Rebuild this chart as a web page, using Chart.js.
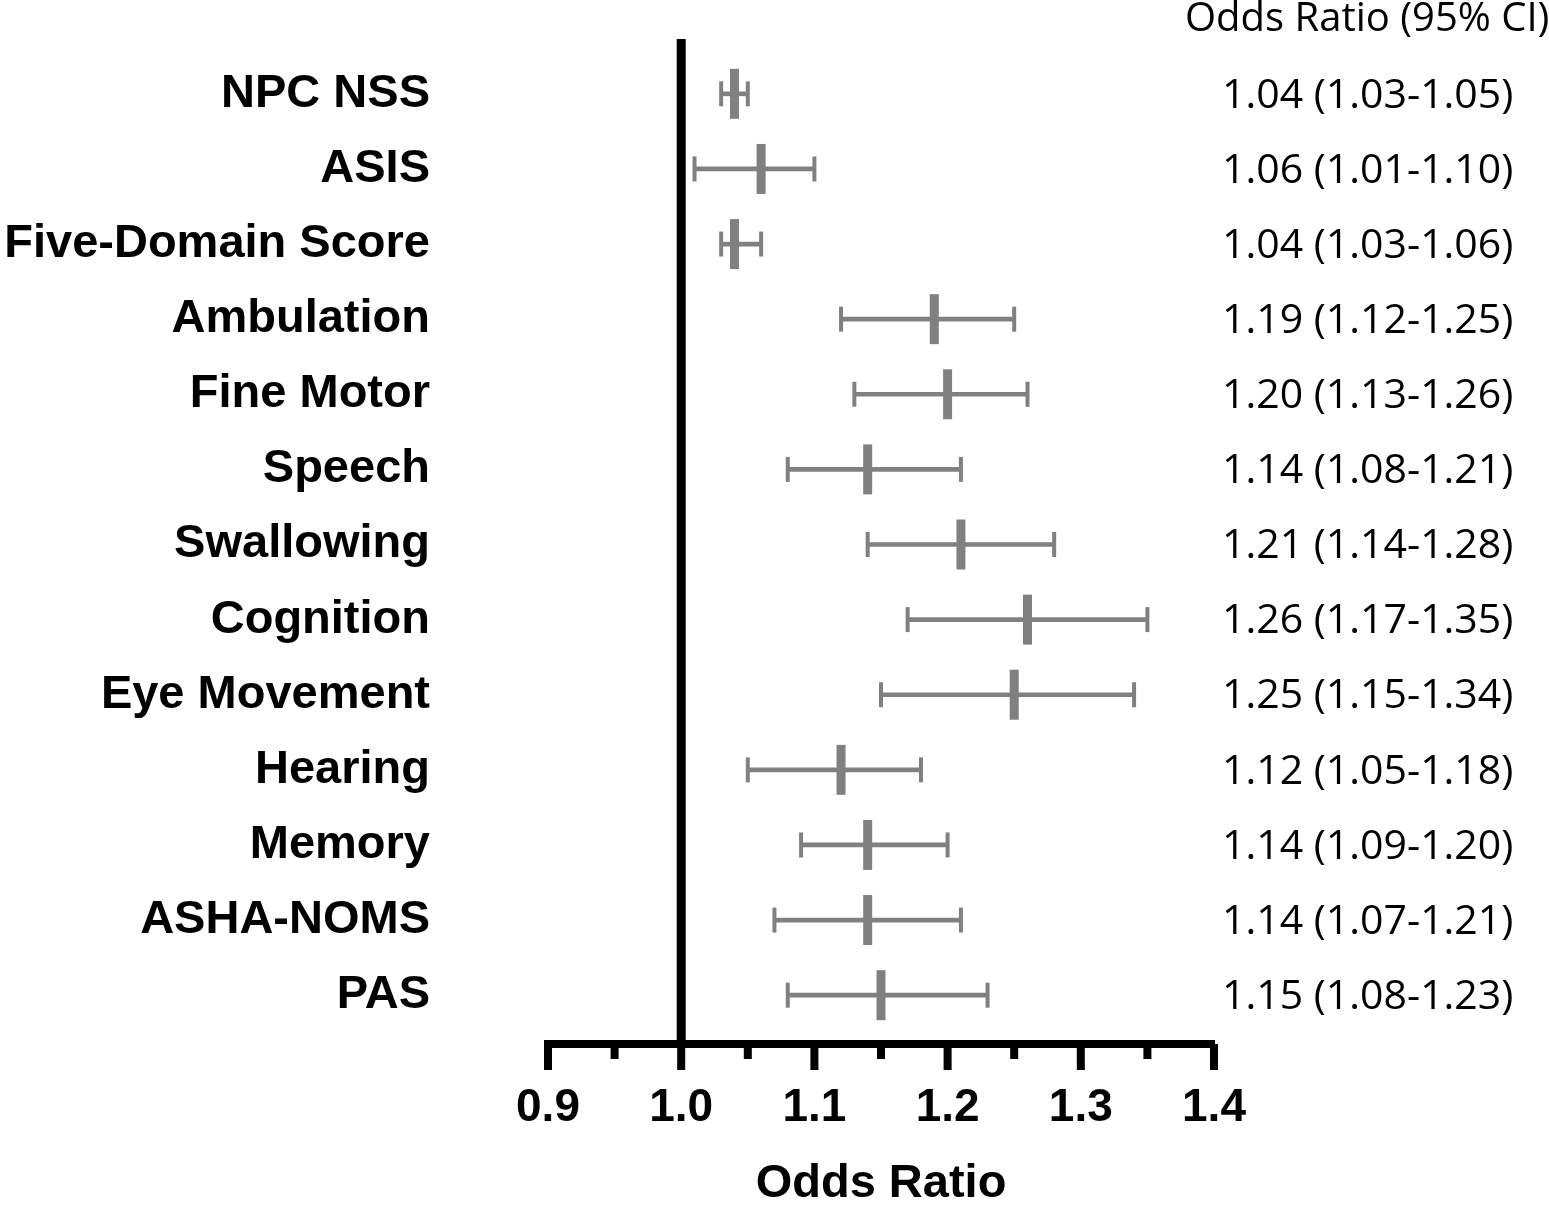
<!DOCTYPE html>
<html>
<head>
<meta charset="utf-8">
<script src="https://cdn.jsdelivr.net/npm/chart.js@4.4.0/dist/chart.umd.min.js"></script>
<style>
  html, body { margin: 0; padding: 0; background: #fff; }
  #wrap { width: 1549px; height: 1208px; }
</style>
</head>
<body>
<div id="wrap"><canvas id="forestCanvas"></canvas></div>
<script>
// datos del forest plot
const categorias = ['NPC NSS', 'ASIS', 'Five-Domain Score', 'Ambulation', 'Fine Motor', 'Speech',
  'Swallowing', 'Cognition', 'Eye Movement', 'Hearing', 'Memory', 'ASHA-NOMS', 'PAS'];
const oddsRatio = [1.04, 1.06, 1.04, 1.19, 1.20, 1.14, 1.21, 1.26, 1.25, 1.12, 1.14, 1.14, 1.15];
const ciLow = [1.03, 1.01, 1.03, 1.12, 1.13, 1.08, 1.14, 1.17, 1.15, 1.05, 1.09, 1.07, 1.08];
const ciHigh = [1.05, 1.10, 1.06, 1.25, 1.26, 1.21, 1.28, 1.35, 1.34, 1.18, 1.20, 1.21, 1.23];
const xTicks = [0.9, 1.0, 1.1, 1.2, 1.3, 1.4];
const xMinorTicks = [0.95, 1.05, 1.15, 1.25, 1.35];
const refValue = 1.0;
const columnHeader = 'Odds Ratio (95% CI)';
const axisTitle = 'Odds Ratio';

const gris = '#808080';
Chart.defaults.font.family = "'Liberation Sans', Arial, sans-serif";
Chart.defaults.color = '#000';

// linea de referencia, ticks del eje y columna de texto
const forestExtras = {
  id: 'forestExtras',
  afterDraw(chart) {
    const ctx = chart.ctx;
    const xs = chart.scales.x, ys = chart.scales.y;
    const area = chart.chartArea;
    ctx.save();
    ctx.fillStyle = '#000';
    // linea vertical en OR = 1
    let xr = xs.getPixelForValue(refValue);
    ctx.fillRect(xr - 4.5, area.top, 9, area.bottom - area.top);
    // ticks mayores y menores
    xTicks.forEach(v => {
      let x = xs.getPixelForValue(v);
      ctx.fillRect(x - 4, area.bottom, 8, 26);
    });
    xMinorTicks.forEach(v => {
      let x = xs.getPixelForValue(v);
      ctx.fillRect(x - 4, area.bottom, 8, 15);
    });
    // columna OR (IC 95%)
    ctx.textAlign = 'left';
    ctx.textBaseline = 'middle';
    ctx.font = "40px 'Open Sans'";
    ctx.fillText(columnHeader, 1185, 20);
    ctx.font = "41px 'Open Sans'";
    categorias.forEach((c, i) => {
      let txt = oddsRatio[i].toFixed(2) + ' (' + ciLow[i].toFixed(2) + '-' + ciHigh[i].toFixed(2) + ')';
      ctx.fillText(txt, 1222, ys.getPixelForValue(i) + 2);
    });
    ctx.restore();
  }
};

function generarGrafico() {
  let canvas = document.getElementById('forestCanvas');
  let whiskers = categorias.map((c, i) => ({ x: [ciLow[i], ciHigh[i]], y: i }));
  let caps = [];
  categorias.forEach((c, i) => {
    caps.push({ x: ciLow[i], y: i });
    caps.push({ x: ciHigh[i], y: i });
  });
  let puntos = categorias.map((c, i) => ({ x: oddsRatio[i], y: i }));

  new Chart(canvas, {
    type: 'scatter',
    data: {
      datasets: [
        {
          type: 'bar',
          indexAxis: 'y',
          data: whiskers,
          backgroundColor: gris,
          barThickness: 4,
          borderWidth: 0
        },
        {
          data: caps,
          pointStyle: 'line',
          rotation: 90,
          radius: 12.5,
          borderWidth: 4,
          borderColor: gris
        },
        {
          data: puntos,
          pointStyle: 'line',
          rotation: 90,
          radius: 25,
          borderWidth: 9,
          borderColor: gris
        }
      ]
    },
    options: {
      responsive: true,
      maintainAspectRatio: false,
      animation: false,
      events: [],
      layout: { padding: { top: 39, right: 335, left: 0, bottom: 0 } },
      plugins: { legend: { display: false }, tooltip: { enabled: false } },
      scales: {
        x: {
          type: 'linear',
          min: 0.9,
          max: 1.4,
          offset: false,
          afterBuildTicks: s => { s.ticks = xTicks.map(v => ({ value: v })); },
          afterFit: s => { s.height = 164; },
          grid: { display: false },
          border: { display: true, color: '#000', width: 8 },
          ticks: {
            padding: 29,
            font: { size: 46, weight: 'bold' },
            callback: v => v.toFixed(1)
          },
          title: {
            display: true,
            text: axisTitle,
            font: { size: 47, weight: 'bold', lineHeight: 1.0 },
            padding: { top: 0, bottom: 0 }
          }
        },
        y: {
          type: 'linear',
          reverse: true,
          offset: false,
          min: -0.73,
          max: 12.65,
          afterBuildTicks: s => { s.ticks = categorias.map((c, i) => ({ value: i })); },
          afterFit: s => { s.width = 548; s.paddingTop = 0; s.paddingBottom = 0; },
          grid: { display: false },
          border: { display: false },
          ticks: {
            padding: 110,
            font: { size: 47, weight: 'bold' },
            callback: v => categorias[v]
          }
        }
      }
    },
    plugins: [forestExtras]
  });
}
generarGrafico();
</script>
</body>
</html>
